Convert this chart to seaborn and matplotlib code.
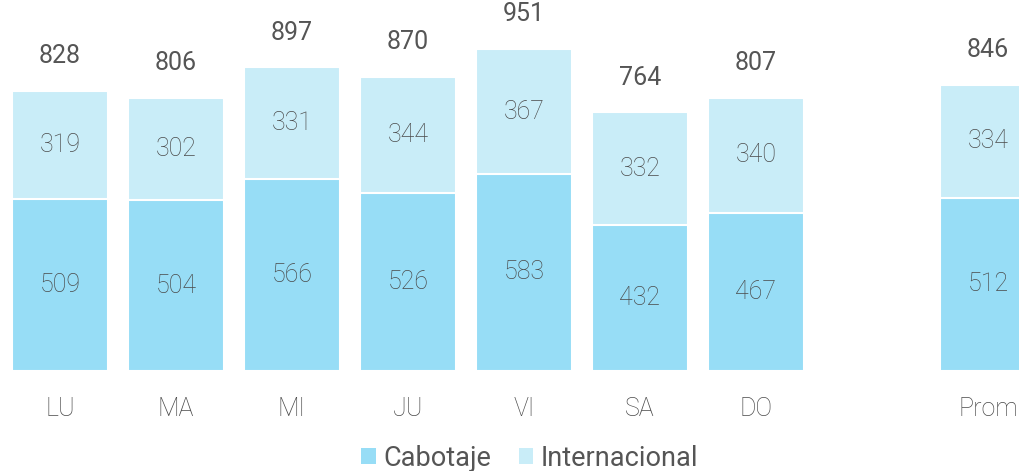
import matplotlib
matplotlib.use("Agg")
import matplotlib.pyplot as plt
import seaborn as sns
import pandas as pd
from matplotlib.patches import Patch

days = ["LU", "MA", "MI", "JU", "VI", "SA", "DO", "Prom"]
cabotaje = [509, 504, 566, 526, 583, 432, 467, 512]
internacional = [319, 302, 331, 344, 367, 332, 340, 334]
totals = [828, 806, 897, 870, 951, 764, 807, 846]

order = ["LU", "MA", "MI", "JU", "VI", "SA", "DO", " ", "Prom"]

c_bot = "#97DDF6"
c_top = "#C9EDF8"
txt = "#4a4a4a"

sns.set_theme(style="white")
plt.rcParams["font.family"] = ["Roboto", "DejaVu Sans"]

df = pd.DataFrame({"day": days, "cab": cabotaje, "int": internacional, "tot": totals})

fig = plt.figure(figsize=(10.19, 4.71), dpi=100)
ax = fig.add_axes([0, 100 / 471, 1, 371 / 471])

sns.barplot(data=df, x="day", y="tot", order=order, color=c_top, saturation=1,
            width=0.82, edgecolor="white", linewidth=1.5, ax=ax, errorbar=None)
sns.barplot(data=df, x="day", y="cab", order=order, color=c_bot, saturation=1,
            width=0.82, edgecolor="white", linewidth=1.5, ax=ax, errorbar=None)

pos = {d: i for i, d in enumerate(order)}
for d, c, i_, t in zip(days, cabotaje, internacional, totals):
    x = pos[d]
    ax.text(x, c / 2, str(c), ha="center", va="center", fontsize=18,
            fontweight="light", color=txt)
    ax.text(x, c + i_ / 2, str(i_), ha="center", va="center", fontsize=18,
            fontweight="light", color=txt)
    ax.annotate(str(t), (x, t), xytext=(0, 25), textcoords="offset points",
                ha="center", va="center", fontsize=18, color="#555555")

ax.set_xlim(-60 / 116, (1019 - 60) / 116)
ax.set_ylim(0, 371 / 0.3385)
ax.set_xlabel("")
ax.set_ylabel("")
ax.set_yticks([])
ax.tick_params(axis="x", length=0, pad=19, labelsize=18, labelcolor=txt)
for lab in ax.get_xticklabels():
    lab.set_fontweight("light")
for s in ax.spines.values():
    s.set_visible(False)

handles = [Patch(facecolor=c_bot, edgecolor="none", label="Cabotaje"),
           Patch(facecolor=c_top, edgecolor="none", label="Internacional")]
leg = fig.legend(handles=handles, loc="lower center", bbox_to_anchor=(0.52, -0.053),
                 ncol=2, frameon=False, fontsize=19.5, handlelength=0.52,
                 handleheight=0.52, handletextpad=0.3, columnspacing=1.0)
for t in leg.get_texts():
    t.set_color("#555555")

fig.savefig("out.png", dpi=100)
